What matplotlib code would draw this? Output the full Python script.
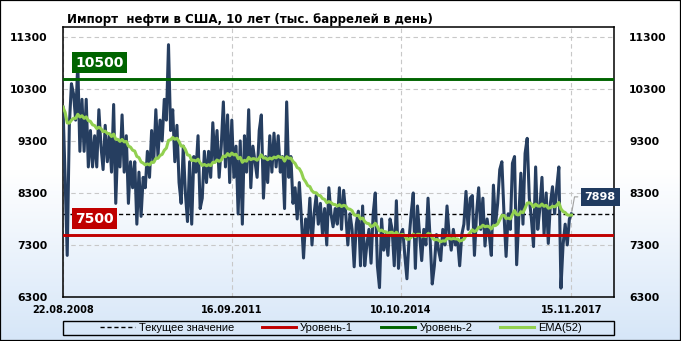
import numpy as np
import pandas as pd
import matplotlib
matplotlib.use('Agg')
import matplotlib.pyplot as plt
from matplotlib.colors import LinearSegmentedColormap
from matplotlib.patches import Rectangle

# импорт нефти в США, тыс. баррелей в день (точки через 2 недели)
start_date = '2008-08-22'
imports_2008_2010 = [9950, 8600, 7100, 9600, 10400, 10200, 9700, 10800, 9100, 10100,
                     9100, 10100, 8800, 9500, 8800, 9400, 8800, 9900, 9200, 8750,
                     9600, 8900, 9400, 8700, 10000, 8100, 9300, 8800, 9800, 8700,
                     9400, 8100, 8900, 8400, 8900, 7700, 8700, 7850, 8600, 8400,
                     9100, 8600, 9500, 8900, 9900, 9000, 9700, 9300, 10100, 9700,
                     11150, 9500, 9900, 8900, 9600, 8500, 8100, 9200, 8300, 7750]
imports_2010_2013 = [8900, 7700, 9000, 8700, 9400, 8000, 8200, 9100, 8500, 9100,
                     8600, 9650, 8900, 9500, 8600, 9200, 10050, 8800, 9800, 8500,
                     9700, 8600, 9200, 7900, 9300, 7700, 9400, 8700, 9900, 8400,
                     9200, 8900, 8600, 9500, 9800, 8200, 9000, 8500, 9400, 8700,
                     9450, 8800, 9400, 8700, 9000, 8000, 10050, 8600, 9000, 8100,
                     8400, 7800, 8500, 7800, 7050, 7800, 7500, 8200, 7300, 7900]
imports_2013_2015 = [8250, 7700, 8100, 7500, 8000, 7300, 8400, 7900, 7650, 8000,
                     7700, 8400, 7600, 8350, 7900, 7300, 7900, 7600, 6880, 7700,
                     7950, 6900, 8050, 6900, 7300, 7600, 6950, 7900, 8300, 6900,
                     6480, 7800, 7200, 7500, 7100, 7800, 7600, 6900, 8150, 6850,
                     7500, 7600, 7100, 6650, 7400, 7900, 8300, 6850, 8050, 7500,
                     7000, 7600, 7300, 8200, 7400, 6550, 6900, 7500, 7200]
imports_2015_2017 = [7000, 7600, 7300, 8050, 7500, 7200, 7600, 7300, 7400, 6900,
                     7500, 7700, 8330, 7600, 8200, 8250, 7100, 7900, 8400, 7600,
                     8200, 7280, 7800, 7500, 7100, 8450, 7700, 8100, 8750, 8900,
                     7900, 7080, 7900, 7600, 8870, 9000, 6920, 7800, 8680, 7700,
                     9060, 9350, 8200, 7800, 7270, 8800, 7600, 8000, 8600, 7500,
                     8300, 7330, 8100, 8420, 7900, 8400, 8800, 6470, 7300, 7700,
                     7300, 7800, 7898]

tick_dates = ['2008-08-22', '2011-09-16', '2014-10-10', '2017-11-15']
tick_labels = ['22.08.2008', '16.09.2011', '10.10.2014', '15.11.2017']
y_ticks = [6300, 7300, 8300, 9300, 10300, 11300]
level1 = 7500
level2 = 10500

values = imports_2008_2010 + imports_2010_2013 + imports_2013_2015 + imports_2015_2017
dates = pd.date_range(start_date, periods=len(values), freq='14D')
series = pd.Series(values, index=dates)
ema = series.ewm(span=26, adjust=False).mean()  # EMA(52) недели = 26 точек по 2 недели
current = values[-1]

fig = plt.figure(figsize=(6.81, 3.41), dpi=100)

# фон с градиентом
bg = fig.add_axes([0, 0, 1, 1], zorder=-10)
cmap = LinearSegmentedColormap.from_list('bg', ['#ffffff', '#ffffff', '#d6e6f8'])
bg.imshow(np.linspace(0, 1, 256).reshape(-1, 1), aspect='auto', cmap=cmap,
          extent=[0, 1, 0, 1], origin='upper')
bg.axis('off')
fig.patches.append(Rectangle((0, 0), 1, 1, transform=fig.transFigure,
                             fill=False, ec='black', lw=1.6))

ax = fig.add_axes([63 / 681, 44 / 341, 551 / 681, 270 / 341])
ax.set_facecolor('none')

ax.plot(series.index, series.values, color='#263e60', lw=2.2, zorder=3,
        solid_joinstyle='round')
ax.plot(ema.index, ema.values, color='#92d050', lw=2.2, zorder=4, label='EMA(52)')
ax.axhline(current, color='black', lw=1, ls=(0, (3, 2)), zorder=2, label='Текущее значение')
ax.axhline(level1, color='#c00000', lw=2.1, zorder=5, label='Уровень-1')
ax.axhline(level2, color='#006400', lw=2.1, zorder=5, label='Уровень-2')

x0 = pd.Timestamp(start_date)
ax.set_xlim(x0, x0 + pd.Timedelta(days=3656))
ax.set_ylim(6300, 11490)

ax.set_yticks(y_ticks)
ax.set_yticklabels([str(v) for v in y_ticks])
ax.set_xticks(pd.to_datetime(tick_dates))
ax.set_xticklabels(tick_labels)
ax.tick_params(axis='y', length=0, labelsize=7.8, pad=11, labelright=True, right=False)
ax.tick_params(axis='x', length=0, labelsize=7, pad=6)
for lab in ax.get_xticklabels() + ax.get_yticklabels():
    lab.set_fontweight('bold')
for t in ax.yaxis.get_major_ticks():
    t.label2.set_fontweight('bold')

ax.grid(True, color='#c8c8c8', ls=(0, (4, 3)), lw=0.8)
for s in ax.spines.values():
    s.set_linewidth(1.1)

# подписи уровней
for lev, col in [(level2, '#006400'), (level1, '#c00000')]:
    ax.annotate(str(lev), xy=(0.022, lev), xycoords=('axes fraction', 'data'),
                xytext=(0, 9), textcoords='offset pixels', ha='left', va='bottom',
                color='white', fontsize=10, fontweight='bold', zorder=6,
                bbox=dict(boxstyle='square,pad=0.25', fc=col, ec='none'))

# текущее значение
ax.annotate(str(current), xy=(series.index[-1], current), xytext=(13, 17),
            textcoords='offset pixels', ha='left', va='center', color='white',
            fontsize=8, fontweight='bold', annotation_clip=False, zorder=6,
            bbox=dict(boxstyle='square,pad=0.35', fc='#1f3a5f', ec='none'),
            arrowprops=dict(arrowstyle='-', color='#a0a0a0', lw=0.8,
                            connectionstyle='angle,angleA=0,angleB=80,rad=0'))

fig.text(67 / 681, 1 - 19 / 341, 'Импорт  нефти в США, 10 лет (тыс. баррелей в день)',
         fontsize=8.5, fontweight='bold', va='center', ha='left')

# легенда в рамке по ширине графика
ax.add_patch(Rectangle((0, (297 - 335) / 270), 1, 14 / 270, transform=ax.transAxes,
                       fill=False, ec='black', lw=1, clip_on=False))
handles, labels = ax.get_legend_handles_labels()
order = ['Текущее значение', 'Уровень-1', 'Уровень-2', 'EMA(52)']
hmap = dict(zip(labels, handles))
leg = ax.legend([hmap[k] for k in order], order, loc='center', ncol=4,
                bbox_to_anchor=(0.505, (297 - 328) / 270), frameon=False,
                prop={'family': 'Liberation Sans', 'size': 8},
                borderpad=0, handlelength=3.1, handletextpad=0.35, columnspacing=2.5)

fig.savefig('out.png', dpi=100)
